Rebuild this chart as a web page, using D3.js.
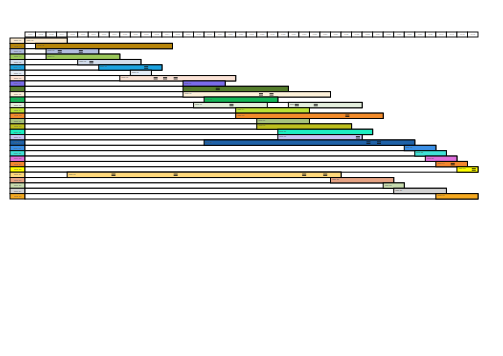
<!DOCTYPE html>
<html><head><meta charset="utf-8">
<script src="https://cdn.jsdelivr.net/npm/d3@7"></script>
<style>body{margin:0;background:#fff}svg{display:block}</style>
</head><body>
<svg id="c" width="503" height="356"></svg>
<script>
// ---- data ----
const periods = d3.range(1, 44).map(d => "W" + String(d).padStart(2, "0"));
const tasks = ["Task 01","Task 02","Task 03","Task 04","Task 05","Task 06","Task 07","Task 08","Task 09","Task 10",
  "Task 11","Task 12","Task 13","Task 14","Task 15","Task 16","Task 17","Task 18","Task 19","Task 20",
  "Task 21","Task 22","Task 23","Task 24","Task 25","Task 26","Task 27","Task 28","Task 29","Task 30"];
const segments = [[[0,4]],[[1,14]],[[2,7]],[[2,9]],[[5,11]],[[7,13]],[[10,12]],[[9,20]],[[15,19]],[[15,25]],
  [[15,29]],[[17,24]],[[16,23],[25,32]],[[20,27]],[[20,34]],[[22,27]],[[22,31]],[[24,33]],[[24,32]],[[17,37]],
  [[36,39]],[[37,40]],[[38,41]],[[39,42]],[[41,43]],[[4,30]],[[29,35]],[[34,36]],[[35,40]],[[39,43]]];
const colors = ["#FBEBD2","#B8860B","#B3BEDF","#9BC85A","#D3DDEB","#1CA3E0","#E4ECF6","#FBE3D6","#7B6CEB","#557D2C",
  "#FDF1DA","#13B757","#E3EEDC","#BCE337","#F28B2B","#A8C37E","#BDBF1E","#1EEFC2","#C9C6F5","#1F62A8",
  "#3B8FE5","#40E2D6","#DE6FDC","#F4862E","#FFFF00","#FFD97C","#E6A384","#C8DCAF","#D2D2D2","#F5A920"];
const milestoneTask = [2,2,4,5,7,7,7,9,10,10,12,12,12,14,18,19,19,23,24,25,25,25,25];
const milestoneAt   = [3.3,5.3,6.3,11.5,12.4,13.3,14.3,18.3,22.4,23.4,19.6,25.8,27.6,30.6,31.6,32.6,33.6,40.6,42.6,8.4,14.3,26.5,28.5];

// ---- scales ----
const svg = d3.select("#c");
const x = d3.scaleLinear().domain([0, periods.length]).range([25, 478]);
const y = d3.scaleBand().domain(d3.range(tasks.length)).range([38, 199]).padding(0);
const hTop = 32, hH = 5;

// header
const hdr = svg.append("g");
hdr.selectAll("rect").data(periods).join("rect")
  .attr("x", (d,i) => x(i)).attr("y", hTop).attr("width", x(1)-x(0)).attr("height", hH)
  .attr("fill", "#fff").attr("stroke", "#000").attr("stroke-width", 0.9);
hdr.selectAll("text").data(periods).join("text")
  .attr("x", (d,i) => x(i + 0.5)).attr("y", hTop + 3.3).attr("text-anchor", "middle")
  .attr("font-size", 2.2).attr("font-family", "Liberation Sans").attr("fill", "#888").text(d => d);

// rows
const rows = svg.append("g").selectAll("g").data(tasks).join("g");
rows.append("rect")
  .attr("x", 10).attr("y", (d,i) => y(i)).attr("width", 15).attr("height", y.bandwidth())
  .attr("fill", (d,i) => colors[i]).attr("stroke", "#000").attr("stroke-width", 0.9);
rows.append("text")
  .attr("x", 17.5).attr("y", (d,i) => y(i) + 3.3).attr("text-anchor", "middle")
  .attr("font-size", 2.2).attr("font-family", "Liberation Sans").attr("fill", "#666").text(d => d);
rows.append("rect")
  .attr("x", x(0)).attr("y", (d,i) => y(i))
  .attr("width", (d,i) => x(d3.max(segments[i], s => s[1])) - x(0)).attr("height", y.bandwidth())
  .attr("fill", "#fff").attr("stroke", "#000").attr("stroke-width", 1);

// bars
const segData = segments.flatMap((segs, i) => segs.map(s => ({i, s})));
const bars = svg.append("g");
bars.selectAll("rect").data(segData).join("rect")
  .attr("x", d => x(d.s[0])).attr("y", d => y(d.i))
  .attr("width", d => x(d.s[1]) - x(d.s[0])).attr("height", y.bandwidth())
  .attr("fill", d => colors[d.i]).attr("stroke", "#000").attr("stroke-width", 1);
bars.selectAll("text").data(segData).join("text")
  .attr("x", d => x(d.s[0]) + 1.5).attr("y", d => y(d.i) + 2.6)
  .attr("font-size", 2).attr("font-family", "Liberation Sans").attr("fill", "#555")
  .text(d => tasks[d.i]);

// milestones
const ms = svg.append("g").selectAll("g").data(milestoneTask.map((t, k) => ({t, at: milestoneAt[k]}))).join("g");
ms.append("rect").attr("x", d => x(d.at) - 2).attr("y", d => y(d.t) + 1.5).attr("width", 4).attr("height", 0.8).attr("fill", "#111");
ms.append("rect").attr("x", d => x(d.at) - 2).attr("y", d => y(d.t) + 3).attr("width", 4).attr("height", 0.8).attr("fill", "#111");
</script>
</body></html>
